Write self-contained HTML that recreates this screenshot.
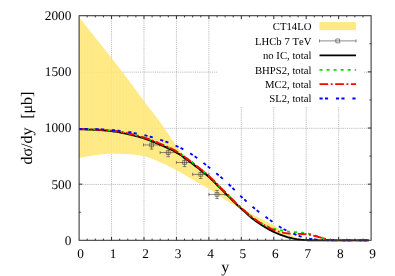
<!DOCTYPE html>
<html><head><meta charset="utf-8"><title>chart</title>
<style>html,body{margin:0;padding:0;background:#fff;}body{width:395px;height:276px;overflow:hidden;font-family:"Liberation Serif",serif;}</style>
</head><body>
<svg width="395" height="276" viewBox="0 0 395 276" style="display:block">
<rect width="395" height="276" fill="#fff"/>
<path d="M111.54,15.7 V240.3 M143.99,15.7 V240.3 M176.43,15.7 V240.3 M208.88,15.7 V240.3 M241.32,15.7 V240.3 M273.77,15.7 V240.3 M306.21,15.7 V240.3 M338.66,15.7 V240.3 M79.1,184.45 H371.1 M79.1,128.30 H371.1 M79.1,72.15 H371.1" stroke="#949494" stroke-width="0.68" stroke-dasharray="0.95,0.95" fill="none"/>
<path d="M87.21,240.3 v-1.7 M87.21,15.7 v1.7 M95.32,240.3 v-1.7 M95.32,15.7 v1.7 M103.43,240.3 v-1.7 M103.43,15.7 v1.7 M111.54,240.3 v-3.3 M111.54,15.7 v3.3 M119.66,240.3 v-1.7 M119.66,15.7 v1.7 M127.77,240.3 v-1.7 M127.77,15.7 v1.7 M135.88,240.3 v-1.7 M135.88,15.7 v1.7 M143.99,240.3 v-3.3 M143.99,15.7 v3.3 M152.10,240.3 v-1.7 M152.10,15.7 v1.7 M160.21,240.3 v-1.7 M160.21,15.7 v1.7 M168.32,240.3 v-1.7 M168.32,15.7 v1.7 M176.43,240.3 v-3.3 M176.43,15.7 v3.3 M184.54,240.3 v-1.7 M184.54,15.7 v1.7 M192.66,240.3 v-1.7 M192.66,15.7 v1.7 M200.77,240.3 v-1.7 M200.77,15.7 v1.7 M208.88,240.3 v-3.3 M208.88,15.7 v3.3 M216.99,240.3 v-1.7 M216.99,15.7 v1.7 M225.10,240.3 v-1.7 M225.10,15.7 v1.7 M233.21,240.3 v-1.7 M233.21,15.7 v1.7 M241.32,240.3 v-3.3 M241.32,15.7 v3.3 M249.43,240.3 v-1.7 M249.43,15.7 v1.7 M257.54,240.3 v-1.7 M257.54,15.7 v1.7 M265.66,240.3 v-1.7 M265.66,15.7 v1.7 M273.77,240.3 v-3.3 M273.77,15.7 v3.3 M281.88,240.3 v-1.7 M281.88,15.7 v1.7 M289.99,240.3 v-1.7 M289.99,15.7 v1.7 M298.10,240.3 v-1.7 M298.10,15.7 v1.7 M306.21,240.3 v-3.3 M306.21,15.7 v3.3 M314.32,240.3 v-1.7 M314.32,15.7 v1.7 M322.43,240.3 v-1.7 M322.43,15.7 v1.7 M330.54,240.3 v-1.7 M330.54,15.7 v1.7 M338.66,240.3 v-3.3 M338.66,15.7 v3.3 M346.77,240.3 v-1.7 M346.77,15.7 v1.7 M354.88,240.3 v-1.7 M354.88,15.7 v1.7 M362.99,240.3 v-1.7 M362.99,15.7 v1.7 M79.1,212.23 h1.7 M371.1,212.23 h-1.7 M79.1,184.15 h3.3 M371.1,184.15 h-3.3 M79.1,156.07 h1.7 M371.1,156.07 h-1.7 M79.1,128.00 h3.3 M371.1,128.00 h-3.3 M79.1,99.93 h1.7 M371.1,99.93 h-1.7 M79.1,71.85 h3.3 M371.1,71.85 h-3.3 M79.1,43.77 h1.7 M371.1,43.77 h-1.7" stroke="#000" stroke-width="0.8" fill="none"/>
<rect x="217.8" y="19.6" width="145.2" height="86.6" fill="#fff"/>
<defs><pattern id="seam" width="2.92" height="8" patternUnits="userSpaceOnUse" x="79.1"><rect x="1.2" width="0.5" height="8" fill="#fff" opacity="0.17"/></pattern></defs>
<path d="M79.10,17.27 L80.25,18.71 L81.40,20.15 L82.55,21.58 L83.70,23.02 L84.85,24.46 L86.00,25.90 L87.15,27.34 L88.30,28.78 L89.44,30.22 L90.59,31.66 L91.74,33.10 L92.89,34.55 L94.04,35.99 L95.19,37.43 L96.34,38.88 L97.49,40.32 L98.64,41.76 L99.79,43.20 L100.94,44.64 L102.09,46.08 L103.24,47.52 L104.39,48.97 L105.54,50.41 L106.69,51.86 L107.84,53.32 L108.98,54.77 L110.13,56.24 L111.28,57.70 L112.43,59.18 L113.58,60.65 L114.73,62.13 L115.88,63.61 L117.03,65.10 L118.18,66.59 L119.33,68.08 L120.48,69.57 L121.63,71.07 L122.78,72.58 L123.93,74.08 L125.08,75.60 L126.23,77.11 L127.38,78.63 L128.52,80.16 L129.67,81.69 L130.82,83.23 L131.97,84.78 L133.12,86.34 L134.27,87.90 L135.42,89.46 L136.57,91.03 L137.72,92.59 L138.87,94.15 L140.02,95.71 L141.17,97.26 L142.32,98.81 L143.47,100.35 L144.62,101.88 L145.77,103.40 L146.92,104.90 L148.06,106.40 L149.21,107.89 L150.36,109.37 L151.51,110.86 L152.66,112.35 L153.81,113.84 L154.96,115.34 L156.11,116.85 L157.26,118.38 L158.41,119.92 L159.56,121.49 L160.71,123.07 L161.86,124.69 L163.01,126.32 L164.16,127.98 L165.31,129.65 L166.46,131.33 L167.60,133.01 L168.75,134.70 L169.90,136.45 L171.05,138.24 L172.20,140.03 L173.35,141.81 L174.50,143.52 L175.65,145.15 L176.80,146.66 L177.95,148.12 L179.10,149.53 L180.25,150.89 L181.40,152.20 L182.55,153.43 L183.70,154.60 L184.85,155.68 L186.00,156.66 L187.14,157.58 L188.29,158.44 L189.44,159.28 L190.59,160.12 L191.74,160.98 L192.89,161.88 L194.04,162.80 L195.19,163.71 L196.34,164.63 L197.49,165.55 L198.64,166.48 L199.79,167.41 L200.94,168.35 L202.09,169.29 L203.24,170.25 L204.39,171.22 L205.54,172.21 L206.68,173.21 L207.83,174.23 L208.98,175.26 L210.13,176.33 L211.28,177.42 L212.43,178.54 L213.58,179.68 L214.73,180.84 L215.88,182.01 L217.03,183.19 L218.18,184.38 L219.33,185.57 L220.48,186.76 L221.63,187.95 L222.78,189.12 L223.93,190.28 L225.08,191.43 L226.22,192.57 L227.37,193.74 L228.52,194.92 L229.67,196.11 L230.82,197.30 L231.97,198.49 L233.12,199.67 L234.27,200.83 L235.42,201.97 L236.57,203.07 L237.72,204.14 L238.87,205.16 L240.02,206.14 L241.17,207.05 L242.32,207.92 L243.47,208.75 L244.62,209.54 L245.76,210.31 L246.91,211.05 L248.06,211.77 L249.21,212.46 L250.36,213.14 L251.51,213.81 L252.66,214.46 L253.81,215.10 L254.96,215.71 L256.11,216.30 L257.26,216.87 L258.41,217.44 L259.56,217.99 L260.71,218.55 L261.86,219.11 L263.01,219.68 L264.16,220.26 L265.31,220.86 L266.45,221.46 L267.60,222.06 L268.75,222.66 L269.90,223.25 L271.05,223.79 L272.20,224.33 L273.35,224.91 L274.50,225.60 L275.65,226.43 L276.80,227.34 L277.95,228.27 L279.10,229.17 L280.25,229.96 L281.40,230.66 L282.55,231.32 L283.70,231.93 L284.85,232.52 L285.99,233.10 L287.14,233.65 L288.29,234.18 L289.44,234.68 L290.59,235.15 L291.74,235.60 L292.89,236.03 L294.04,236.44 L295.19,236.85 L296.34,237.24 L297.49,237.63 L298.64,238.01 L299.79,238.42 L300.94,238.82 L302.09,239.20 L303.24,239.54 L304.39,239.81 L305.53,240.01 L306.68,240.18 L307.83,240.30 L307.83,240.30 L306.68,240.30 L305.53,240.29 L304.39,240.23 L303.24,240.14 L302.09,240.02 L300.94,239.88 L299.79,239.75 L298.64,239.60 L297.49,239.44 L296.34,239.25 L295.19,239.05 L294.04,238.83 L292.89,238.59 L291.74,238.34 L290.59,238.08 L289.44,237.81 L288.29,237.51 L287.14,237.18 L285.99,236.82 L284.85,236.45 L283.70,236.05 L282.55,235.64 L281.40,235.22 L280.25,234.79 L279.10,234.35 L277.95,233.88 L276.80,233.39 L275.65,232.88 L274.50,232.34 L273.35,231.79 L272.20,231.21 L271.05,230.63 L269.90,230.02 L268.75,229.40 L267.60,228.76 L266.45,228.11 L265.31,227.45 L264.16,226.76 L263.01,226.07 L261.86,225.36 L260.71,224.63 L259.56,223.89 L258.41,223.13 L257.26,222.36 L256.11,221.55 L254.96,220.69 L253.81,219.79 L252.66,218.86 L251.51,217.91 L250.36,216.94 L249.21,215.96 L248.06,214.98 L246.91,214.01 L245.76,213.05 L244.62,212.12 L243.47,211.22 L242.32,210.35 L241.17,209.53 L240.02,208.75 L238.87,208.00 L237.72,207.27 L236.57,206.55 L235.42,205.85 L234.27,205.16 L233.12,204.48 L231.97,203.80 L230.82,203.13 L229.67,202.45 L228.52,201.76 L227.37,201.07 L226.22,200.36 L225.08,199.63 L223.93,198.89 L222.78,198.13 L221.63,197.36 L220.48,196.58 L219.33,195.79 L218.18,195.00 L217.03,194.22 L215.88,193.43 L214.73,192.65 L213.58,191.88 L212.43,191.12 L211.28,190.37 L210.13,189.64 L208.98,188.93 L207.83,188.25 L206.68,187.58 L205.54,186.94 L204.39,186.30 L203.24,185.67 L202.09,185.04 L200.94,184.39 L199.79,183.74 L198.64,183.07 L197.49,182.40 L196.34,181.72 L195.19,181.04 L194.04,180.36 L192.89,179.68 L191.74,179.00 L190.59,178.32 L189.44,177.66 L188.29,176.99 L187.14,176.32 L186.00,175.64 L184.85,174.97 L183.70,174.30 L182.55,173.63 L181.40,172.97 L180.25,172.32 L179.10,171.67 L177.95,171.04 L176.80,170.42 L175.65,169.81 L174.50,169.20 L173.35,168.60 L172.20,168.00 L171.05,167.40 L169.90,166.81 L168.75,166.23 L167.60,165.66 L166.46,165.10 L165.31,164.54 L164.16,164.00 L163.01,163.47 L161.86,162.96 L160.71,162.46 L159.56,161.98 L158.41,161.49 L157.26,160.99 L156.11,160.50 L154.96,160.01 L153.81,159.53 L152.66,159.06 L151.51,158.60 L150.36,158.17 L149.21,157.76 L148.06,157.38 L146.92,157.02 L145.77,156.71 L144.62,156.43 L143.47,156.20 L142.32,155.97 L141.17,155.75 L140.02,155.54 L138.87,155.34 L137.72,155.15 L136.57,154.97 L135.42,154.80 L134.27,154.64 L133.12,154.50 L131.97,154.37 L130.82,154.26 L129.67,154.17 L128.52,154.09 L127.38,154.04 L126.23,153.98 L125.08,153.93 L123.93,153.89 L122.78,153.84 L121.63,153.80 L120.48,153.76 L119.33,153.73 L118.18,153.69 L117.03,153.67 L115.88,153.64 L114.73,153.63 L113.58,153.61 L112.43,153.61 L111.28,153.61 L110.13,153.62 L108.98,153.67 L107.84,153.73 L106.69,153.81 L105.54,153.92 L104.39,154.03 L103.24,154.16 L102.09,154.29 L100.94,154.44 L99.79,154.59 L98.64,154.74 L97.49,154.89 L96.34,155.05 L95.19,155.19 L94.04,155.34 L92.89,155.51 L91.74,155.68 L90.59,155.86 L89.44,156.05 L88.30,156.25 L87.15,156.45 L86.00,156.67 L84.85,156.89 L83.70,157.12 L82.55,157.36 L81.40,157.60 L80.25,157.84 L79.10,158.10Z" fill="#FFE982"/>
<path d="M79.10,17.27 L80.25,18.71 L81.40,20.15 L82.55,21.58 L83.70,23.02 L84.85,24.46 L86.00,25.90 L87.15,27.34 L88.30,28.78 L89.44,30.22 L90.59,31.66 L91.74,33.10 L92.89,34.55 L94.04,35.99 L95.19,37.43 L96.34,38.88 L97.49,40.32 L98.64,41.76 L99.79,43.20 L100.94,44.64 L102.09,46.08 L103.24,47.52 L104.39,48.97 L105.54,50.41 L106.69,51.86 L107.84,53.32 L108.98,54.77 L110.13,56.24 L111.28,57.70 L112.43,59.18 L113.58,60.65 L114.73,62.13 L115.88,63.61 L117.03,65.10 L118.18,66.59 L119.33,68.08 L120.48,69.57 L121.63,71.07 L122.78,72.58 L123.93,74.08 L125.08,75.60 L126.23,77.11 L127.38,78.63 L128.52,80.16 L129.67,81.69 L130.82,83.23 L131.97,84.78 L133.12,86.34 L134.27,87.90 L135.42,89.46 L136.57,91.03 L137.72,92.59 L138.87,94.15 L140.02,95.71 L141.17,97.26 L142.32,98.81 L143.47,100.35 L144.62,101.88 L145.77,103.40 L146.92,104.90 L148.06,106.40 L149.21,107.89 L150.36,109.37 L151.51,110.86 L152.66,112.35 L153.81,113.84 L154.96,115.34 L156.11,116.85 L157.26,118.38 L158.41,119.92 L159.56,121.49 L160.71,123.07 L161.86,124.69 L163.01,126.32 L164.16,127.98 L165.31,129.65 L166.46,131.33 L167.60,133.01 L168.75,134.70 L169.90,136.45 L171.05,138.24 L172.20,140.03 L173.35,141.81 L174.50,143.52 L175.65,145.15 L176.80,146.66 L177.95,148.12 L179.10,149.53 L180.25,150.89 L181.40,152.20 L182.55,153.43 L183.70,154.60 L184.85,155.68 L186.00,156.66 L187.14,157.58 L188.29,158.44 L189.44,159.28 L190.59,160.12 L191.74,160.98 L192.89,161.88 L194.04,162.80 L195.19,163.71 L196.34,164.63 L197.49,165.55 L198.64,166.48 L199.79,167.41 L200.94,168.35 L202.09,169.29 L203.24,170.25 L204.39,171.22 L205.54,172.21 L206.68,173.21 L207.83,174.23 L208.98,175.26 L210.13,176.33 L211.28,177.42 L212.43,178.54 L213.58,179.68 L214.73,180.84 L215.88,182.01 L217.03,183.19 L218.18,184.38 L219.33,185.57 L220.48,186.76 L221.63,187.95 L222.78,189.12 L223.93,190.28 L225.08,191.43 L226.22,192.57 L227.37,193.74 L228.52,194.92 L229.67,196.11 L230.82,197.30 L231.97,198.49 L233.12,199.67 L234.27,200.83 L235.42,201.97 L236.57,203.07 L237.72,204.14 L238.87,205.16 L240.02,206.14 L241.17,207.05 L242.32,207.92 L243.47,208.75 L244.62,209.54 L245.76,210.31 L246.91,211.05 L248.06,211.77 L249.21,212.46 L250.36,213.14 L251.51,213.81 L252.66,214.46 L253.81,215.10 L254.96,215.71 L256.11,216.30 L257.26,216.87 L258.41,217.44 L259.56,217.99 L260.71,218.55 L261.86,219.11 L263.01,219.68 L264.16,220.26 L265.31,220.86 L266.45,221.46 L267.60,222.06 L268.75,222.66 L269.90,223.25 L271.05,223.79 L272.20,224.33 L273.35,224.91 L274.50,225.60 L275.65,226.43 L276.80,227.34 L277.95,228.27 L279.10,229.17 L280.25,229.96 L281.40,230.66 L282.55,231.32 L283.70,231.93 L284.85,232.52 L285.99,233.10 L287.14,233.65 L288.29,234.18 L289.44,234.68 L290.59,235.15 L291.74,235.60 L292.89,236.03 L294.04,236.44 L295.19,236.85 L296.34,237.24 L297.49,237.63 L298.64,238.01 L299.79,238.42 L300.94,238.82 L302.09,239.20 L303.24,239.54 L304.39,239.81 L305.53,240.01 L306.68,240.18 L307.83,240.30 L307.83,240.30 L306.68,240.30 L305.53,240.29 L304.39,240.23 L303.24,240.14 L302.09,240.02 L300.94,239.88 L299.79,239.75 L298.64,239.60 L297.49,239.44 L296.34,239.25 L295.19,239.05 L294.04,238.83 L292.89,238.59 L291.74,238.34 L290.59,238.08 L289.44,237.81 L288.29,237.51 L287.14,237.18 L285.99,236.82 L284.85,236.45 L283.70,236.05 L282.55,235.64 L281.40,235.22 L280.25,234.79 L279.10,234.35 L277.95,233.88 L276.80,233.39 L275.65,232.88 L274.50,232.34 L273.35,231.79 L272.20,231.21 L271.05,230.63 L269.90,230.02 L268.75,229.40 L267.60,228.76 L266.45,228.11 L265.31,227.45 L264.16,226.76 L263.01,226.07 L261.86,225.36 L260.71,224.63 L259.56,223.89 L258.41,223.13 L257.26,222.36 L256.11,221.55 L254.96,220.69 L253.81,219.79 L252.66,218.86 L251.51,217.91 L250.36,216.94 L249.21,215.96 L248.06,214.98 L246.91,214.01 L245.76,213.05 L244.62,212.12 L243.47,211.22 L242.32,210.35 L241.17,209.53 L240.02,208.75 L238.87,208.00 L237.72,207.27 L236.57,206.55 L235.42,205.85 L234.27,205.16 L233.12,204.48 L231.97,203.80 L230.82,203.13 L229.67,202.45 L228.52,201.76 L227.37,201.07 L226.22,200.36 L225.08,199.63 L223.93,198.89 L222.78,198.13 L221.63,197.36 L220.48,196.58 L219.33,195.79 L218.18,195.00 L217.03,194.22 L215.88,193.43 L214.73,192.65 L213.58,191.88 L212.43,191.12 L211.28,190.37 L210.13,189.64 L208.98,188.93 L207.83,188.25 L206.68,187.58 L205.54,186.94 L204.39,186.30 L203.24,185.67 L202.09,185.04 L200.94,184.39 L199.79,183.74 L198.64,183.07 L197.49,182.40 L196.34,181.72 L195.19,181.04 L194.04,180.36 L192.89,179.68 L191.74,179.00 L190.59,178.32 L189.44,177.66 L188.29,176.99 L187.14,176.32 L186.00,175.64 L184.85,174.97 L183.70,174.30 L182.55,173.63 L181.40,172.97 L180.25,172.32 L179.10,171.67 L177.95,171.04 L176.80,170.42 L175.65,169.81 L174.50,169.20 L173.35,168.60 L172.20,168.00 L171.05,167.40 L169.90,166.81 L168.75,166.23 L167.60,165.66 L166.46,165.10 L165.31,164.54 L164.16,164.00 L163.01,163.47 L161.86,162.96 L160.71,162.46 L159.56,161.98 L158.41,161.49 L157.26,160.99 L156.11,160.50 L154.96,160.01 L153.81,159.53 L152.66,159.06 L151.51,158.60 L150.36,158.17 L149.21,157.76 L148.06,157.38 L146.92,157.02 L145.77,156.71 L144.62,156.43 L143.47,156.20 L142.32,155.97 L141.17,155.75 L140.02,155.54 L138.87,155.34 L137.72,155.15 L136.57,154.97 L135.42,154.80 L134.27,154.64 L133.12,154.50 L131.97,154.37 L130.82,154.26 L129.67,154.17 L128.52,154.09 L127.38,154.04 L126.23,153.98 L125.08,153.93 L123.93,153.89 L122.78,153.84 L121.63,153.80 L120.48,153.76 L119.33,153.73 L118.18,153.69 L117.03,153.67 L115.88,153.64 L114.73,153.63 L113.58,153.61 L112.43,153.61 L111.28,153.61 L110.13,153.62 L108.98,153.67 L107.84,153.73 L106.69,153.81 L105.54,153.92 L104.39,154.03 L103.24,154.16 L102.09,154.29 L100.94,154.44 L99.79,154.59 L98.64,154.74 L97.49,154.89 L96.34,155.05 L95.19,155.19 L94.04,155.34 L92.89,155.51 L91.74,155.68 L90.59,155.86 L89.44,156.05 L88.30,156.25 L87.15,156.45 L86.00,156.67 L84.85,156.89 L83.70,157.12 L82.55,157.36 L81.40,157.60 L80.25,157.84 L79.10,158.10Z" fill="url(#seam)"/>
<clipPath id="bc"><path d="M79.10,17.27 L80.25,18.71 L81.40,20.15 L82.55,21.58 L83.70,23.02 L84.85,24.46 L86.00,25.90 L87.15,27.34 L88.30,28.78 L89.44,30.22 L90.59,31.66 L91.74,33.10 L92.89,34.55 L94.04,35.99 L95.19,37.43 L96.34,38.88 L97.49,40.32 L98.64,41.76 L99.79,43.20 L100.94,44.64 L102.09,46.08 L103.24,47.52 L104.39,48.97 L105.54,50.41 L106.69,51.86 L107.84,53.32 L108.98,54.77 L110.13,56.24 L111.28,57.70 L112.43,59.18 L113.58,60.65 L114.73,62.13 L115.88,63.61 L117.03,65.10 L118.18,66.59 L119.33,68.08 L120.48,69.57 L121.63,71.07 L122.78,72.58 L123.93,74.08 L125.08,75.60 L126.23,77.11 L127.38,78.63 L128.52,80.16 L129.67,81.69 L130.82,83.23 L131.97,84.78 L133.12,86.34 L134.27,87.90 L135.42,89.46 L136.57,91.03 L137.72,92.59 L138.87,94.15 L140.02,95.71 L141.17,97.26 L142.32,98.81 L143.47,100.35 L144.62,101.88 L145.77,103.40 L146.92,104.90 L148.06,106.40 L149.21,107.89 L150.36,109.37 L151.51,110.86 L152.66,112.35 L153.81,113.84 L154.96,115.34 L156.11,116.85 L157.26,118.38 L158.41,119.92 L159.56,121.49 L160.71,123.07 L161.86,124.69 L163.01,126.32 L164.16,127.98 L165.31,129.65 L166.46,131.33 L167.60,133.01 L168.75,134.70 L169.90,136.45 L171.05,138.24 L172.20,140.03 L173.35,141.81 L174.50,143.52 L175.65,145.15 L176.80,146.66 L177.95,148.12 L179.10,149.53 L180.25,150.89 L181.40,152.20 L182.55,153.43 L183.70,154.60 L184.85,155.68 L186.00,156.66 L187.14,157.58 L188.29,158.44 L189.44,159.28 L190.59,160.12 L191.74,160.98 L192.89,161.88 L194.04,162.80 L195.19,163.71 L196.34,164.63 L197.49,165.55 L198.64,166.48 L199.79,167.41 L200.94,168.35 L202.09,169.29 L203.24,170.25 L204.39,171.22 L205.54,172.21 L206.68,173.21 L207.83,174.23 L208.98,175.26 L210.13,176.33 L211.28,177.42 L212.43,178.54 L213.58,179.68 L214.73,180.84 L215.88,182.01 L217.03,183.19 L218.18,184.38 L219.33,185.57 L220.48,186.76 L221.63,187.95 L222.78,189.12 L223.93,190.28 L225.08,191.43 L226.22,192.57 L227.37,193.74 L228.52,194.92 L229.67,196.11 L230.82,197.30 L231.97,198.49 L233.12,199.67 L234.27,200.83 L235.42,201.97 L236.57,203.07 L237.72,204.14 L238.87,205.16 L240.02,206.14 L241.17,207.05 L242.32,207.92 L243.47,208.75 L244.62,209.54 L245.76,210.31 L246.91,211.05 L248.06,211.77 L249.21,212.46 L250.36,213.14 L251.51,213.81 L252.66,214.46 L253.81,215.10 L254.96,215.71 L256.11,216.30 L257.26,216.87 L258.41,217.44 L259.56,217.99 L260.71,218.55 L261.86,219.11 L263.01,219.68 L264.16,220.26 L265.31,220.86 L266.45,221.46 L267.60,222.06 L268.75,222.66 L269.90,223.25 L271.05,223.79 L272.20,224.33 L273.35,224.91 L274.50,225.60 L275.65,226.43 L276.80,227.34 L277.95,228.27 L279.10,229.17 L280.25,229.96 L281.40,230.66 L282.55,231.32 L283.70,231.93 L284.85,232.52 L285.99,233.10 L287.14,233.65 L288.29,234.18 L289.44,234.68 L290.59,235.15 L291.74,235.60 L292.89,236.03 L294.04,236.44 L295.19,236.85 L296.34,237.24 L297.49,237.63 L298.64,238.01 L299.79,238.42 L300.94,238.82 L302.09,239.20 L303.24,239.54 L304.39,239.81 L305.53,240.01 L306.68,240.18 L307.83,240.30 L307.83,240.30 L306.68,240.30 L305.53,240.29 L304.39,240.23 L303.24,240.14 L302.09,240.02 L300.94,239.88 L299.79,239.75 L298.64,239.60 L297.49,239.44 L296.34,239.25 L295.19,239.05 L294.04,238.83 L292.89,238.59 L291.74,238.34 L290.59,238.08 L289.44,237.81 L288.29,237.51 L287.14,237.18 L285.99,236.82 L284.85,236.45 L283.70,236.05 L282.55,235.64 L281.40,235.22 L280.25,234.79 L279.10,234.35 L277.95,233.88 L276.80,233.39 L275.65,232.88 L274.50,232.34 L273.35,231.79 L272.20,231.21 L271.05,230.63 L269.90,230.02 L268.75,229.40 L267.60,228.76 L266.45,228.11 L265.31,227.45 L264.16,226.76 L263.01,226.07 L261.86,225.36 L260.71,224.63 L259.56,223.89 L258.41,223.13 L257.26,222.36 L256.11,221.55 L254.96,220.69 L253.81,219.79 L252.66,218.86 L251.51,217.91 L250.36,216.94 L249.21,215.96 L248.06,214.98 L246.91,214.01 L245.76,213.05 L244.62,212.12 L243.47,211.22 L242.32,210.35 L241.17,209.53 L240.02,208.75 L238.87,208.00 L237.72,207.27 L236.57,206.55 L235.42,205.85 L234.27,205.16 L233.12,204.48 L231.97,203.80 L230.82,203.13 L229.67,202.45 L228.52,201.76 L227.37,201.07 L226.22,200.36 L225.08,199.63 L223.93,198.89 L222.78,198.13 L221.63,197.36 L220.48,196.58 L219.33,195.79 L218.18,195.00 L217.03,194.22 L215.88,193.43 L214.73,192.65 L213.58,191.88 L212.43,191.12 L211.28,190.37 L210.13,189.64 L208.98,188.93 L207.83,188.25 L206.68,187.58 L205.54,186.94 L204.39,186.30 L203.24,185.67 L202.09,185.04 L200.94,184.39 L199.79,183.74 L198.64,183.07 L197.49,182.40 L196.34,181.72 L195.19,181.04 L194.04,180.36 L192.89,179.68 L191.74,179.00 L190.59,178.32 L189.44,177.66 L188.29,176.99 L187.14,176.32 L186.00,175.64 L184.85,174.97 L183.70,174.30 L182.55,173.63 L181.40,172.97 L180.25,172.32 L179.10,171.67 L177.95,171.04 L176.80,170.42 L175.65,169.81 L174.50,169.20 L173.35,168.60 L172.20,168.00 L171.05,167.40 L169.90,166.81 L168.75,166.23 L167.60,165.66 L166.46,165.10 L165.31,164.54 L164.16,164.00 L163.01,163.47 L161.86,162.96 L160.71,162.46 L159.56,161.98 L158.41,161.49 L157.26,160.99 L156.11,160.50 L154.96,160.01 L153.81,159.53 L152.66,159.06 L151.51,158.60 L150.36,158.17 L149.21,157.76 L148.06,157.38 L146.92,157.02 L145.77,156.71 L144.62,156.43 L143.47,156.20 L142.32,155.97 L141.17,155.75 L140.02,155.54 L138.87,155.34 L137.72,155.15 L136.57,154.97 L135.42,154.80 L134.27,154.64 L133.12,154.50 L131.97,154.37 L130.82,154.26 L129.67,154.17 L128.52,154.09 L127.38,154.04 L126.23,153.98 L125.08,153.93 L123.93,153.89 L122.78,153.84 L121.63,153.80 L120.48,153.76 L119.33,153.73 L118.18,153.69 L117.03,153.67 L115.88,153.64 L114.73,153.63 L113.58,153.61 L112.43,153.61 L111.28,153.61 L110.13,153.62 L108.98,153.67 L107.84,153.73 L106.69,153.81 L105.54,153.92 L104.39,154.03 L103.24,154.16 L102.09,154.29 L100.94,154.44 L99.79,154.59 L98.64,154.74 L97.49,154.89 L96.34,155.05 L95.19,155.19 L94.04,155.34 L92.89,155.51 L91.74,155.68 L90.59,155.86 L89.44,156.05 L88.30,156.25 L87.15,156.45 L86.00,156.67 L84.85,156.89 L83.70,157.12 L82.55,157.36 L81.40,157.60 L80.25,157.84 L79.10,158.10Z"/></clipPath>
<path clip-path="url(#bc)" d="M111.54,15.7 V240.3 M143.99,15.7 V240.3 M176.43,15.7 V240.3 M208.88,15.7 V240.3 M241.32,15.7 V240.3 M273.77,15.7 V240.3 M306.21,15.7 V240.3 M338.66,15.7 V240.3 M79.1,184.45 H371.1 M79.1,128.30 H371.1 M79.1,72.15 H371.1" stroke="#808080" stroke-width="0.65" stroke-dasharray="0.95,0.95" fill="none" opacity="0.1"/>
<path d="M143.50,144.96 H159.72 M143.50,143.46 v3 M159.72,143.46 v3 M151.61,140.81 V149.10 M149.81,140.81 h3.6 M149.81,149.10 h3.6 M149.71,143.06 h3.8 v3.8 h-3.8 Z M160.08,152.59 H176.30 M160.08,151.09 v3 M176.30,151.09 v3 M168.19,148.45 V156.74 M166.39,148.45 h3.6 M166.39,156.74 h3.6 M166.29,150.69 h3.8 v3.8 h-3.8 Z M176.43,162.48 H192.66 M176.43,160.98 v3 M192.66,160.98 v3 M184.54,158.33 V166.62 M182.74,158.33 h3.6 M182.74,166.62 h3.6 M182.64,160.58 h3.8 v3.8 h-3.8 Z M192.66,174.38 H208.88 M192.66,172.88 v3 M208.88,172.88 v3 M200.77,170.24 V178.52 M198.97,170.24 h3.6 M198.97,178.52 h3.6 M198.87,172.48 h3.8 v3.8 h-3.8 Z M208.88,194.48 H225.10 M208.88,192.98 v3 M225.10,192.98 v3 M216.99,190.45 V198.51 M215.19,190.45 h3.6 M215.19,198.51 h3.6 M215.09,192.58 h3.8 v3.8 h-3.8 Z" stroke="#3c3c3c" stroke-width="0.6" fill="none"/>
<path d="M79.10,129.35 L80.56,129.35 L82.01,129.37 L83.47,129.39 L84.92,129.42 L86.38,129.46 L87.84,129.51 L89.29,129.56 L90.75,129.61 L92.20,129.67 L93.66,129.73 L95.12,129.79 L96.57,129.85 L98.03,129.93 L99.48,130.02 L100.94,130.12 L102.39,130.24 L103.85,130.36 L105.31,130.49 L106.76,130.63 L108.22,130.78 L109.67,130.94 L111.13,131.10 L112.59,131.27 L114.04,131.46 L115.50,131.68 L116.95,131.92 L118.41,132.17 L119.87,132.44 L121.32,132.72 L122.78,133.01 L124.23,133.31 L125.69,133.62 L127.15,133.93 L128.60,134.25 L130.06,134.58 L131.51,134.92 L132.97,135.28 L134.43,135.66 L135.88,136.05 L137.34,136.45 L138.79,136.86 L140.25,137.29 L141.70,137.73 L143.16,138.18 L144.62,138.65 L146.07,139.13 L147.53,139.64 L148.98,140.17 L150.44,140.72 L151.90,141.29 L153.35,141.87 L154.81,142.46 L156.26,143.06 L157.72,143.67 L159.18,144.29 L160.63,144.91 L162.09,145.54 L163.54,146.17 L165.00,146.81 L166.46,147.46 L167.91,148.13 L169.37,148.81 L170.82,149.52 L172.28,150.25 L173.74,151.00 L175.19,151.79 L176.65,152.60 L178.10,153.47 L179.56,154.39 L181.01,155.35 L182.47,156.36 L183.93,157.39 L185.38,158.45 L186.84,159.54 L188.29,160.63 L189.75,161.74 L191.21,162.84 L192.66,163.94 L194.12,165.04 L195.57,166.14 L197.03,167.26 L198.49,168.38 L199.94,169.52 L201.40,170.68 L202.85,171.85 L204.31,173.05 L205.77,174.27 L207.22,175.51 L208.68,176.79 L210.13,178.10 L211.59,179.46 L213.05,180.86 L214.50,182.29 L215.96,183.76 L217.41,185.24 L218.87,186.73 L220.32,188.22 L221.78,189.70 L223.24,191.17 L224.69,192.62 L226.15,194.05 L227.60,195.49 L229.06,196.93 L230.52,198.38 L231.97,199.82 L233.43,201.26 L234.88,202.68 L236.34,204.09 L237.80,205.48 L239.25,206.85 L240.71,208.19 L242.16,209.50 L243.62,210.81 L245.08,212.12 L246.53,213.42 L247.99,214.70 L249.44,215.97 L250.90,217.20 L252.35,218.41 L253.81,219.57 L255.27,220.69 L256.72,221.75 L258.18,222.77 L259.63,223.75 L261.09,224.70 L262.55,225.63 L264.00,226.53 L265.46,227.40 L266.91,228.25 L268.37,229.07 L269.83,229.86 L271.28,230.63 L272.74,231.37 L274.19,232.08 L275.65,232.77 L277.11,233.42 L278.56,234.02 L280.02,234.60 L281.47,235.14 L282.93,235.67 L284.39,236.18 L285.84,236.66 L287.30,237.11 L288.75,237.52 L290.21,237.88 L291.66,238.21 L293.12,238.53 L294.58,238.82 L296.03,239.09 L297.49,239.33 L298.94,239.53 L300.40,239.70 L301.86,239.87 L303.31,240.01 L304.77,240.12 L306.22,240.19 L307.68,240.23 L309.14,240.26 L310.59,240.29 L312.05,240.30 L313.50,240.30 L314.96,240.30 L316.42,240.30 L317.87,240.30 L319.33,240.30 L320.78,240.30 L322.24,240.30 L323.70,240.30 L325.15,240.30 L326.61,240.30 L328.06,240.30 L329.52,240.30 L330.97,240.30 L332.43,240.30 L333.89,240.30 L335.34,240.30 L336.80,240.30 L338.25,240.30 L339.71,240.30 L341.17,240.30 L342.62,240.30 L344.08,240.30 L345.53,240.30 L346.99,240.30 L348.45,240.30 L349.90,240.30 L351.36,240.30 L352.81,240.30 L354.27,240.30 L355.73,240.30 L357.18,240.30 L358.64,240.30 L360.09,240.30 L361.55,240.30 L363.01,240.30 L364.46,240.30 L365.92,240.30 L367.37,240.30 L368.83,240.30" stroke="#000" stroke-width="1.85" fill="none"/>
<path d="M79.10,129.12 L80.56,129.13 L82.01,129.14 L83.47,129.16 L84.92,129.18 L86.38,129.21 L87.84,129.24 L89.29,129.28 L90.75,129.32 L92.20,129.36 L93.66,129.41 L95.12,129.45 L96.57,129.50 L98.03,129.57 L99.48,129.64 L100.94,129.72 L102.39,129.82 L103.85,129.92 L105.31,130.03 L106.76,130.15 L108.22,130.27 L109.67,130.40 L111.13,130.54 L112.59,130.69 L114.04,130.86 L115.50,131.06 L116.95,131.27 L118.41,131.50 L119.87,131.75 L121.32,132.01 L122.78,132.29 L124.23,132.57 L125.69,132.86 L127.15,133.15 L128.60,133.45 L130.06,133.77 L131.51,134.10 L132.97,134.45 L134.43,134.81 L135.88,135.19 L137.34,135.59 L138.79,136.00 L140.25,136.42 L141.70,136.85 L143.16,137.29 L144.62,137.74 L146.07,138.22 L147.53,138.72 L148.98,139.24 L150.44,139.78 L151.90,140.33 L153.35,140.90 L154.81,141.48 L156.26,142.08 L157.72,142.68 L159.18,143.29 L160.63,143.90 L162.09,144.51 L163.54,145.13 L165.00,145.76 L166.46,146.40 L167.91,147.06 L169.37,147.73 L170.82,148.42 L172.28,149.14 L173.74,149.89 L175.19,150.67 L176.65,151.48 L178.10,152.35 L179.56,153.27 L181.01,154.24 L182.47,155.26 L183.93,156.31 L185.38,157.38 L186.84,158.48 L188.29,159.59 L189.75,160.71 L191.21,161.82 L192.66,162.93 L194.12,164.03 L195.57,165.14 L197.03,166.25 L198.49,167.38 L199.94,168.51 L201.40,169.67 L202.85,170.84 L204.31,172.04 L205.77,173.25 L207.22,174.50 L208.68,175.77 L210.13,177.09 L211.59,178.46 L213.05,179.87 L214.50,181.31 L215.96,182.79 L217.41,184.28 L218.87,185.78 L220.32,187.28 L221.78,188.78 L223.24,190.26 L224.69,191.72 L226.15,193.16 L227.60,194.62 L229.06,196.08 L230.52,197.55 L231.97,199.02 L233.43,200.48 L234.88,201.92 L236.34,203.34 L237.80,204.74 L239.25,206.10 L240.71,207.41 L242.16,208.70 L243.62,209.98 L245.08,211.26 L246.53,212.52 L247.99,213.77 L249.44,214.99 L250.90,216.17 L252.35,217.31 L253.81,218.39 L255.27,219.42 L256.72,220.37 L258.18,221.25 L259.63,222.10 L261.09,222.94 L262.55,223.75 L264.00,224.53 L265.46,225.27 L266.91,225.97 L268.37,226.64 L269.83,227.25 L271.28,227.81 L272.74,228.31 L274.19,228.74 L275.65,229.13 L277.11,229.47 L278.56,229.78 L280.02,230.06 L281.47,230.34 L282.93,230.62 L284.39,230.90 L285.84,231.17 L287.30,231.41 L288.75,231.62 L290.21,231.79 L291.66,231.91 L293.12,232.00 L294.58,232.09 L296.03,232.17 L297.49,232.28 L298.94,232.40 L300.40,232.55 L301.86,232.72 L303.31,232.91 L304.77,233.11 L306.22,233.34 L307.68,233.60 L309.14,233.92 L310.59,234.26 L312.05,234.64 L313.50,235.03 L314.96,235.43 L316.42,235.87 L317.87,236.35 L319.33,236.84 L320.78,237.32 L322.24,237.77 L323.70,238.22 L325.15,238.69 L326.61,239.15 L328.06,239.55 L329.52,239.85 L330.97,239.99 L332.43,240.09 L333.89,240.17 L335.34,240.23 L336.80,240.28 L338.25,240.30 L339.71,240.30 L341.17,240.30 L342.62,240.30 L344.08,240.30 L345.53,240.30 L346.99,240.30 L348.45,240.30 L349.90,240.30 L351.36,240.30 L352.81,240.30 L354.27,240.30 L355.73,240.30 L357.18,240.30 L358.64,240.30 L360.09,240.30 L361.55,240.30 L363.01,240.30 L364.46,240.30 L365.92,240.30 L367.37,240.30 L368.83,240.30" stroke="#00e000" stroke-width="1.85" stroke-dasharray="3.0,4.05" fill="none"/>
<path d="M79.10,129.12 L80.56,129.13 L82.01,129.14 L83.47,129.16 L84.92,129.18 L86.38,129.21 L87.84,129.24 L89.29,129.28 L90.75,129.32 L92.20,129.36 L93.66,129.41 L95.12,129.45 L96.57,129.50 L98.03,129.57 L99.48,129.64 L100.94,129.72 L102.39,129.82 L103.85,129.92 L105.31,130.03 L106.76,130.15 L108.22,130.27 L109.67,130.40 L111.13,130.54 L112.59,130.69 L114.04,130.86 L115.50,131.06 L116.95,131.27 L118.41,131.50 L119.87,131.75 L121.32,132.01 L122.78,132.29 L124.23,132.57 L125.69,132.86 L127.15,133.15 L128.60,133.45 L130.06,133.77 L131.51,134.10 L132.97,134.45 L134.43,134.81 L135.88,135.19 L137.34,135.59 L138.79,136.00 L140.25,136.42 L141.70,136.85 L143.16,137.29 L144.62,137.74 L146.07,138.22 L147.53,138.72 L148.98,139.24 L150.44,139.78 L151.90,140.33 L153.35,140.90 L154.81,141.48 L156.26,142.08 L157.72,142.68 L159.18,143.29 L160.63,143.90 L162.09,144.51 L163.54,145.13 L165.00,145.76 L166.46,146.40 L167.91,147.06 L169.37,147.73 L170.82,148.42 L172.28,149.14 L173.74,149.89 L175.19,150.67 L176.65,151.48 L178.10,152.35 L179.56,153.27 L181.01,154.24 L182.47,155.26 L183.93,156.31 L185.38,157.38 L186.84,158.48 L188.29,159.59 L189.75,160.71 L191.21,161.82 L192.66,162.93 L194.12,164.03 L195.57,165.14 L197.03,166.25 L198.49,167.38 L199.94,168.51 L201.40,169.67 L202.85,170.84 L204.31,172.04 L205.77,173.25 L207.22,174.50 L208.68,175.77 L210.13,177.09 L211.59,178.46 L213.05,179.87 L214.50,181.31 L215.96,182.79 L217.41,184.28 L218.87,185.78 L220.32,187.28 L221.78,188.78 L223.24,190.26 L224.69,191.72 L226.15,193.16 L227.60,194.62 L229.06,196.08 L230.52,197.54 L231.97,199.01 L233.43,200.46 L234.88,201.90 L236.34,203.32 L237.80,204.72 L239.25,206.08 L240.71,207.41 L242.16,208.70 L243.62,209.99 L245.08,211.27 L246.53,212.54 L247.99,213.79 L249.44,215.02 L250.90,216.21 L252.35,217.37 L253.81,218.48 L255.27,219.55 L256.72,220.55 L258.18,221.51 L259.63,222.43 L261.09,223.32 L262.55,224.20 L264.00,225.04 L265.46,225.85 L266.91,226.64 L268.37,227.39 L269.83,228.10 L271.28,228.78 L272.74,229.43 L274.19,230.03 L275.65,230.62 L277.11,231.17 L278.56,231.66 L280.02,232.05 L281.47,232.36 L282.93,232.64 L284.39,232.91 L285.84,233.13 L287.30,233.33 L288.75,233.47 L290.21,233.57 L291.66,233.64 L293.12,233.70 L294.58,233.74 L296.03,233.78 L297.49,233.82 L298.94,233.87 L300.40,233.93 L301.86,233.99 L303.31,234.05 L304.77,234.13 L306.22,234.24 L307.68,234.41 L309.14,234.68 L310.59,235.00 L312.05,235.36 L313.50,235.72 L314.96,236.07 L316.42,236.44 L317.87,236.83 L319.33,237.23 L320.78,237.63 L322.24,238.01 L323.70,238.39 L325.15,238.81 L326.61,239.22 L328.06,239.58 L329.52,239.85 L330.97,239.99 L332.43,240.09 L333.89,240.17 L335.34,240.23 L336.80,240.28 L338.25,240.30 L339.71,240.30 L341.17,240.30 L342.62,240.30 L344.08,240.30 L345.53,240.30 L346.99,240.30 L348.45,240.30 L349.90,240.30 L351.36,240.30 L352.81,240.30 L354.27,240.30 L355.73,240.30 L357.18,240.30 L358.64,240.30 L360.09,240.30 L361.55,240.30 L363.01,240.30 L364.46,240.30 L365.92,240.30 L367.37,240.30 L368.83,240.30" stroke="#ff0000" stroke-width="1.85" stroke-dasharray="8.7,2.6,1.8,2.6" fill="none"/>
<path d="M79.10,128.90 L80.56,128.90 L82.01,128.91 L83.47,128.92 L84.92,128.93 L86.38,128.95 L87.84,128.98 L89.29,129.00 L90.75,129.03 L92.20,129.06 L93.66,129.09 L95.12,129.12 L96.57,129.16 L98.03,129.20 L99.48,129.26 L100.94,129.33 L102.39,129.41 L103.85,129.49 L105.31,129.58 L106.76,129.68 L108.22,129.78 L109.67,129.88 L111.13,129.99 L112.59,130.10 L114.04,130.23 L115.50,130.37 L116.95,130.52 L118.41,130.68 L119.87,130.86 L121.32,131.04 L122.78,131.23 L124.23,131.43 L125.69,131.63 L127.15,131.84 L128.60,132.06 L130.06,132.28 L131.51,132.53 L132.97,132.78 L134.43,133.05 L135.88,133.33 L137.34,133.62 L138.79,133.92 L140.25,134.23 L141.70,134.55 L143.16,134.88 L144.62,135.22 L146.07,135.58 L147.53,135.95 L148.98,136.35 L150.44,136.75 L151.90,137.18 L153.35,137.61 L154.81,138.06 L156.26,138.51 L157.72,138.98 L159.18,139.45 L160.63,139.93 L162.09,140.42 L163.54,140.91 L165.00,141.42 L166.46,141.94 L167.91,142.48 L169.37,143.03 L170.82,143.60 L172.28,144.18 L173.74,144.79 L175.19,145.42 L176.65,146.06 L178.10,146.74 L179.56,147.45 L181.01,148.18 L182.47,148.94 L183.93,149.73 L185.38,150.55 L186.84,151.38 L188.29,152.24 L189.75,153.13 L191.21,154.03 L192.66,154.96 L194.12,155.92 L195.57,156.92 L197.03,157.97 L198.49,159.06 L199.94,160.17 L201.40,161.31 L202.85,162.47 L204.31,163.64 L205.77,164.81 L207.22,165.98 L208.68,167.15 L210.13,168.30 L211.59,169.46 L213.05,170.63 L214.50,171.80 L215.96,172.98 L217.41,174.18 L218.87,175.39 L220.32,176.61 L221.78,177.86 L223.24,179.12 L224.69,180.42 L226.15,181.74 L227.60,183.11 L229.06,184.53 L230.52,185.98 L231.97,187.45 L233.43,188.93 L234.88,190.41 L236.34,191.88 L237.80,193.34 L239.25,194.77 L240.71,196.15 L242.16,197.50 L243.62,198.84 L245.08,200.17 L246.53,201.49 L247.99,202.79 L249.44,204.08 L250.90,205.35 L252.35,206.60 L253.81,207.83 L255.27,209.04 L256.72,210.22 L258.18,211.38 L259.63,212.51 L261.09,213.61 L262.55,214.70 L264.00,215.77 L265.46,216.82 L266.91,217.86 L268.37,218.89 L269.83,219.92 L271.28,220.93 L272.74,221.95 L274.19,222.97 L275.65,224.00 L277.11,225.04 L278.56,226.06 L280.02,227.03 L281.47,227.94 L282.93,228.76 L284.39,229.54 L285.84,230.27 L287.30,230.97 L288.75,231.65 L290.21,232.31 L291.66,232.96 L293.12,233.59 L294.58,234.20 L296.03,234.79 L297.49,235.36 L298.94,235.90 L300.40,236.46 L301.86,237.00 L303.31,237.50 L304.77,237.94 L306.22,238.28 L307.68,238.55 L309.14,238.78 L310.59,238.99 L312.05,239.17 L313.50,239.32 L314.96,239.46 L316.42,239.58 L317.87,239.69 L319.33,239.79 L320.78,239.87 L322.24,239.95 L323.70,240.03 L325.15,240.11 L326.61,240.19 L328.06,240.25 L329.52,240.29 L330.97,240.30 L332.43,240.30 L333.89,240.30 L335.34,240.30 L336.80,240.30 L338.25,240.30 L339.71,240.30 L341.17,240.30 L342.62,240.30 L344.08,240.30 L345.53,240.30 L346.99,240.30 L348.45,240.30 L349.90,240.30 L351.36,240.30 L352.81,240.30 L354.27,240.30 L355.73,240.30 L357.18,240.30 L358.64,240.30 L360.09,240.30 L361.55,240.30 L363.01,240.30 L364.46,240.30 L365.92,240.30 L367.37,240.30 L368.83,240.30" stroke="#0000ff" stroke-width="1.85" stroke-dasharray="3.15,2.3,3.15,7.85" fill="none"/>
<rect x="79.1" y="15.7" width="292.0" height="224.60000000000002" fill="none" stroke="#333" stroke-width="1.05"/>
<rect x="319.5" y="22.1" width="36.5" height="8" fill="#FFE982"/>
<path d="M319.5,40.9 H356.0 M319.5,39.4 v3 M356.0,39.4 v3 M335.85,39.0 h3.8 v3.8 h-3.8 Z" stroke="#3c3c3c" stroke-width="0.6" fill="none"/>
<path d="M319.5,55.4 H356.0" stroke="#000" stroke-width="1.85"/>
<path d="M319.5,69.9 H356.0" stroke="#00e000" stroke-width="1.85" stroke-dasharray="3.0,4.05"/>
<path d="M319.5,84.1 H356.0" stroke="#ff0000" stroke-width="1.85" stroke-dasharray="8.7,2.6,1.8,2.6"/>
<path d="M319.5,98.5 H356.0" stroke="#0000ff" stroke-width="1.85" stroke-dasharray="3.15,2.3,3.15,7.85"/>
<defs><mask id="tm"><rect width="395" height="276" fill="#fff"/></mask></defs>
<g mask="url(#tm)" font-family="Liberation Serif, serif" font-size="13.3" fill="#000" style="text-rendering:geometricPrecision;font-kerning:none">
<text x="311.4" y="29.8" text-anchor="end" font-size="10.7">CT14LO</text>
<text x="311.4" y="44.6" text-anchor="end" font-size="10.7">LHCb 7 TeV</text>
<text x="311.4" y="59.1" text-anchor="end" font-size="10.7">no IC, total</text>
<text x="311.4" y="73.6" text-anchor="end" font-size="10.7">BHPS2, total</text>
<text x="311.4" y="87.8" text-anchor="end" font-size="10.7">MC2, total</text>
<text x="311.4" y="102.2" text-anchor="end" font-size="10.7">SL2, total</text>
<text x="71.4" y="244.6" text-anchor="end">0</text>
<text x="71.4" y="188.5" text-anchor="end">500</text>
<text x="71.4" y="132.3" text-anchor="end">1000</text>
<text x="71.4" y="76.1" text-anchor="end">1500</text>
<text x="71.4" y="20.0" text-anchor="end">2000</text>
<text x="80.7" y="258.2" text-anchor="middle">0</text>
<text x="113.1" y="258.2" text-anchor="middle">1</text>
<text x="145.6" y="258.2" text-anchor="middle">2</text>
<text x="178.0" y="258.2" text-anchor="middle">3</text>
<text x="210.5" y="258.2" text-anchor="middle">4</text>
<text x="242.9" y="258.2" text-anchor="middle">5</text>
<text x="275.4" y="258.2" text-anchor="middle">6</text>
<text x="307.8" y="258.2" text-anchor="middle">7</text>
<text x="340.3" y="258.2" text-anchor="middle">8</text>
<text x="372.7" y="258.2" text-anchor="middle">9</text>
<text x="225.2" y="271.7" text-anchor="middle" font-size="16">y</text>
<text transform="translate(32.0,164.6) rotate(-90)" text-anchor="start" font-size="16">dσ/dy</text>
<text transform="translate(32.0,91.6) rotate(-90)" text-anchor="end" font-size="16">[μb]</text>
</g>
</svg>
</body></html>
